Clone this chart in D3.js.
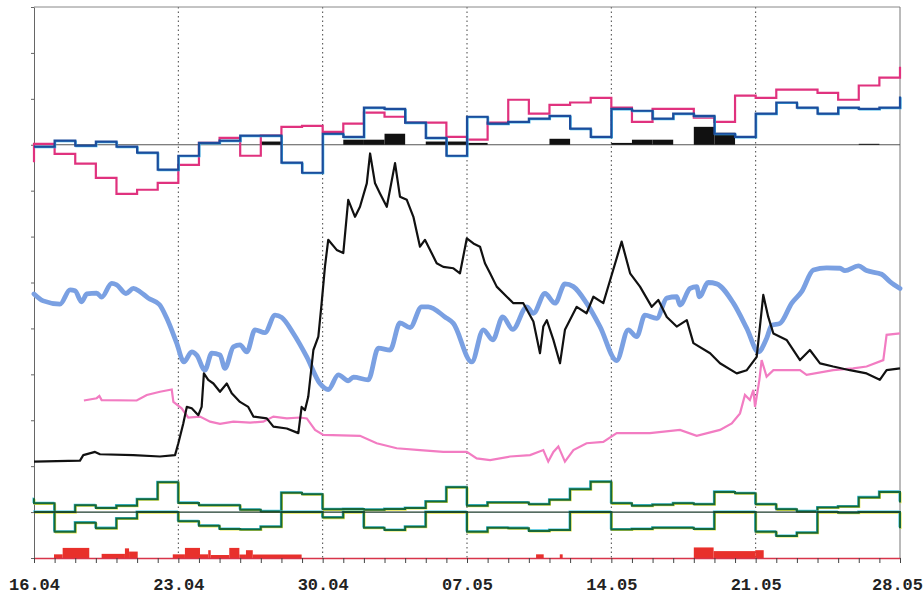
<!DOCTYPE html>
<html>
<head>
<meta charset="utf-8">
<script src="https://cdn.jsdelivr.net/npm/d3@7"></script>
<style>
  body { margin: 0; background: #fff; }
  svg { display: block; }
</style>
</head>
<body>
<div id="chart"></div>
<script>
// x axis: days since 16.04, weekly labels
const dayCount = 42;
const weekDays = [0, 7, 14, 21, 28, 35, 42];
const weekLabels = ["16.04", "23.04", "30.04", "07.05", "14.05", "21.05", "28.05"];

// top panel, daily steps (lead-in value, 42 days, end value)
const pinkStepStart = -3.8;
const pinkStep = [0.2, -2.0, -4.1, -7.2, -10.7, -9.8, -8.3, -4.4, 0.4, 1.5, -2.4, 2.0, 3.9, 4.1, 2.8, 4.6, 7.0, 6.1, 4.8, 4.8, 1.7,
  1.1, 4.8, 9.8, 6.8, 8.7, 9.2, 10.2, 8.1, 5.0, 7.8, 7.8, 5.9, 5.0, 10.7, 10.2, 12.0, 12.0, 11.3, 9.8, 12.9, 14.6];
const pinkStepEnd = 17.0;

const blueStepStart = -0.4;
const blueStep = [-0.4, 0.9, -0.2, 0.7, -0.4, -1.7, -5.4, -2.4, 0.4, 0.9, 2.0, 2.0, -3.9, -6.1, 2.4, 1.7, 8.1, 7.8, 4.8, 1.5, -2.4,
  6.1, 4.6, 5.0, 5.7, 6.3, 3.5, 1.7, 7.8, 7.4, 5.7, 6.8, 6.3, 2.4, 1.7, 6.8, 9.2, 8.1, 6.8, 8.1, 7.8, 8.1];
const blueStepEnd = 10.5;

const blackBars = [0, 0, 0, 0, 0, 0, 0, 0, 0, 0, 0, 0.7, 0, 0, 0, 1.1, 1.1, 2.4, 0, 0.7, 0.7,
  0.4, 0, 0, 0, 1.3, 0, 0, 0.4, 1.1, 1.1, 0, 3.9, 2.6, 0, 0, 0, 0, 0, 0, 0.2, 0];

// middle panel: [day, value]
const lightBlueLine = [[0, 57.5], [0.45, 56.0], [1.26, 55.3], [1.75, 58.4], [1.99, 58.2], [2.31, 55.8], [2.56, 57.5], [3.04, 57.7],
  [3.28, 56.8], [3.77, 59.8], [4.01, 59.5], [4.46, 57.6], [4.82, 58.7], [5.14, 58.0], [5.54, 56.6], [6.08, 55.2], [6.44, 52.2],
  [6.92, 46.8], [7.27, 42.7], [7.65, 44.9], [7.89, 44.2], [8.29, 40.9], [8.62, 44.6], [9.02, 44.2], [9.26, 41.3], [9.67, 46.0],
  [9.99, 46.4], [10.32, 44.9], [10.72, 49.7], [11.2, 49.1], [11.69, 52.9], [12.01, 52.4], [12.58, 48.9], [13.23, 43.8],
  [13.87, 38.0], [14.27, 36.7], [14.76, 39.9], [15.24, 38.6], [15.49, 39.4], [16.21, 38.8], [16.7, 45.7], [17.27, 45.3],
  [17.75, 51.2], [18.24, 50.2], [18.8, 54.7], [19.12, 54.7], [19.93, 52.5], [20.34, 51.1], [21.23, 42.7], [21.79, 49.7],
  [22.25, 47.5], [22.73, 52.5], [23.22, 49.8], [23.9, 54.7], [24.22, 53.3], [24.78, 57.6], [25.27, 55.5], [25.75, 59.7],
  [26.16, 59.1], [26.8, 55.5], [27.45, 50.4], [28.26, 43.0], [28.82, 49.7], [29.23, 48.2], [29.63, 52.9], [30.2, 52.2],
  [30.69, 56.6], [31.17, 56.9], [31.33, 55.1], [31.82, 58.7], [32.14, 59.1], [32.27, 56.9], [32.7, 60.0], [33.11, 59.7],
  [33.92, 55.5], [34.57, 50.0], [35.13, 44.9], [35.53, 47.8], [35.78, 50.7], [36.18, 51.1], [36.75, 55.5], [37.23, 58.0],
  [37.8, 62.7], [38.44, 63.2], [39.09, 63.1], [39.33, 62.6], [39.98, 63.6], [40.38, 62.6], [41.11, 61.8], [41.51, 60.2], [42, 58.7]];

const pinkLine = [[2.42, 34.3], [3.04, 34.8], [3.17, 35.3], [3.28, 34.4], [4.98, 34.3], [5.47, 35.5], [6.11, 36.2], [6.68, 36.7],
  [6.76, 34.0], [7.16, 32.6], [7.48, 30.6], [8.05, 30.8], [8.54, 29.7], [9.02, 29.2], [9.67, 29.7], [10.48, 29.5], [11.12, 29.7],
  [11.61, 30.8], [12.26, 30.4], [12.9, 30.6], [13.23, 30.4], [13.63, 27.9], [14.03, 26.8], [15.81, 26.6], [16.62, 25.0],
  [17.59, 23.9], [18.72, 23.5], [19.85, 23.1], [20.99, 23.1], [21.47, 21.7], [22.12, 21.3], [23.09, 22.1], [24.06, 22.4],
  [24.7, 23.5], [24.94, 21.0], [25.19, 23.1], [25.43, 24.3], [25.75, 21.0], [26.16, 23.5], [26.8, 25.0], [27.61, 25.3],
  [28.26, 27.2], [29.87, 27.2], [31.33, 27.9], [32.14, 26.6], [33.27, 27.9], [33.84, 29.3], [34.24, 31.5], [34.48, 35.5],
  [34.72, 34.4], [34.89, 36.6], [34.97, 32.9], [35.18, 38.8], [35.29, 43.1], [35.53, 39.5], [35.86, 40.9], [37.15, 40.9],
  [37.47, 39.9], [38.76, 40.9], [39.73, 41.3], [40.38, 41.7], [41.19, 43.1], [41.35, 48.6], [42, 48.9]];

const blackLine = [[0, 21.0], [2.23, 21.2], [2.39, 22.4], [2.96, 23.1], [3.2, 22.6], [4.82, 22.4], [6.11, 22.1], [6.84, 22.4],
  [7.0, 25.0], [7.24, 29.3], [7.41, 32.9], [7.65, 32.6], [7.97, 31.1], [8.13, 32.9], [8.24, 40.2], [8.45, 38.8], [8.7, 38.0],
  [9.02, 36.2], [9.35, 38.0], [9.59, 35.9], [9.99, 34.0], [10.39, 32.9], [10.64, 30.8], [11.29, 30.4], [11.61, 28.6],
  [12.26, 28.2], [12.82, 27.2], [12.98, 32.9], [13.14, 32.2], [13.3, 35.1], [13.55, 45.3], [13.79, 48.2], [13.95, 55.5],
  [14.11, 63.4], [14.27, 69.3], [14.68, 67.1], [15.0, 66.4], [15.24, 78.0], [15.57, 74.3], [15.81, 76.5], [16.14, 81.6],
  [16.3, 88.1], [16.54, 81.6], [16.78, 79.4], [17.11, 76.5], [17.51, 86.0], [17.75, 78.7], [18.08, 78.0], [18.4, 74.3],
  [18.72, 67.8], [18.96, 69.3], [19.21, 67.1], [19.53, 64.2], [19.85, 63.4], [20.34, 63.1], [20.66, 62.0], [20.99, 69.6],
  [21.31, 68.5], [21.63, 67.8], [21.87, 64.2], [22.12, 62.0], [22.44, 59.1], [22.93, 56.9], [23.25, 55.5], [23.73, 55.5],
  [24.22, 51.5], [24.54, 44.6], [24.7, 50.4], [24.87, 51.8], [25.19, 47.5], [25.51, 42.4], [25.75, 49.7], [26.32, 54.7],
  [26.8, 53.3], [27.13, 56.9], [27.61, 55.5], [27.94, 60.5], [28.5, 68.9], [28.91, 62.0], [29.39, 59.1], [29.96, 54.7],
  [30.28, 56.2], [30.69, 52.5], [31.17, 50.4], [31.66, 51.8], [31.98, 46.8], [32.79, 44.6], [33.27, 42.4], [34.08, 40.2],
  [34.57, 40.9], [35.05, 43.8], [35.37, 57.3], [35.61, 52.5], [35.86, 48.9], [36.5, 47.5], [37.15, 43.1], [37.63, 45.3],
  [38.12, 42.4], [38.76, 41.7], [39.57, 40.9], [40.38, 40.2], [41.02, 38.8], [41.35, 40.9], [42, 41.3]];

// bottom panel, daily steps around the green base line
const greenUpStart = 3.0;
const greenUp = [1.9, 0, 1.5, 0.9, 1.4, 2.8, 6.5, 2.0, 1.5, 1.5, 0.5, 0.15, 4.2, 3.9, 0.6, 0.65, 0.5, 0.65, 0.9, 2.3, 5.4,
  1.4, 2.1, 2.1, 1.7, 2.7, 5.0, 6.6, 1.9, 1.4, 1.6, 1.9, 1.7, 4.4, 4.1, 1.7, 0.6, 0.15, 1.0, 1.2, 3.2, 4.4];
const greenUpEnd = 2.1;

const greenDownStart = 0;
const greenDown = [0, -4.3, -2.3, -3.5, -1.4, 0, 0, -2.0, -3.0, -3.7, -3.8, -3.2, 0, 0, -1.2, 0, -3.4, -3.9, -3.2, 0, 0,
  -4.3, -3.4, -3.5, -4.1, -3.9, 0, 0, -3.8, -3.7, -3.4, -3.4, -3.7, 0, 0, -4.3, -5.2, -4.5, 0, -0.15, 0, 0];
const greenDownEnd = -3.5;

// red bars: start day, end day, height
const redStart = [0.97, 1.39, 3.28, 4.41, 4.61, 6.73, 7.32, 8.05, 8.45, 8.57, 9.47, 9.96, 10.28, 10.61, 24.35, 25.5, 32.0, 32.96, 34.98];
const redEnd = [1.39, 2.68, 4.41, 4.61, 5.03, 7.32, 8.05, 8.45, 8.57, 9.47, 9.96, 10.28, 10.61, 12.98, 24.72, 25.64, 32.96, 34.98, 35.39];
const redVal = [0.8, 2.2, 0.9, 2.1, 1.4, 0.8, 2.2, 0.8, 1.7, 0.65, 2.2, 0.76, 1.7, 0.76, 0.8, 0.8, 2.3, 1.5, 1.7];

const W = 924, H = 594;
const plotL = 34, plotR = 900, plotT = 7, plotB = 558;

const svg = d3.select("#chart").append("svg").attr("width", W).attr("height", H);

const x = d3.scaleLinear().domain([0, dayCount]).range([plotL, plotR]);
const y = d3.scaleLinear().domain([0, 120]).range([plotB, plotT]);
const yTop = d3.scaleLinear().domain([-10, 30]).range([y(80), y(120)]);
const yGreen = d3.scaleLinear().domain([-10, 10]).range([y(0), y(20)]);
const yRed = d3.scaleLinear().domain([0, 10]).range([y(0), y(10)]);

function stepPoints(start, days, end) {
  const pts = [[0, start]];
  days.forEach((v, i) => pts.push([i, v]));
  pts.push([dayCount, end]);
  return pts;
}

// weekly dotted grid
svg.append("g")
  .selectAll("line")
  .data(weekDays.slice(1, -1))
  .enter()
  .append("line")
  .attr("x1", (d) => x(d)).attr("x2", (d) => x(d))
  .attr("y1", plotT).attr("y2", plotB)
  .attr("stroke", "#444")
  .attr("stroke-width", 1)
  .attr("stroke-dasharray", "1.5,3");

// frame
svg.append("line").attr("x1", plotL).attr("x2", plotR).attr("y1", plotT).attr("y2", plotT).attr("stroke", "#888");
svg.append("line").attr("x1", plotR).attr("x2", plotR).attr("y1", plotT).attr("y2", plotB).attr("stroke", "#777");

// left axis, unlabeled ticks
const gy = svg.append("g").attr("transform", `translate(${plotL},0)`)
  .call(d3.axisLeft(y).tickValues(d3.range(0, 121, 10)).tickSize(3).tickSizeOuter(0).tickFormat(""));
gy.selectAll("line").attr("stroke", "#666");
gy.select(".domain").attr("stroke", "#666");

// top panel
svg.append("line").attr("x1", plotL).attr("x2", plotR).attr("y1", yTop(0)).attr("y2", yTop(0))
  .attr("stroke", "#555").attr("stroke-width", 1.2);

svg.append("g")
  .selectAll("rect")
  .data(blackBars)
  .enter()
  .append("rect")
  .attr("x", (d, i) => x(i))
  .attr("width", (d, i) => x(i + 1) - x(i))
  .attr("y", (d) => yTop(d))
  .attr("height", (d) => yTop(0) - yTop(d))
  .attr("fill", "#111");

const stepTop = d3.line().x((d) => x(d[0])).y((d) => yTop(d[1])).curve(d3.curveStepAfter);

svg.append("path").datum(stepPoints(pinkStepStart, pinkStep, pinkStepEnd))
  .attr("d", stepTop).attr("fill", "none").attr("stroke", "#e0327e").attr("stroke-width", 2.2);

svg.append("path").datum(stepPoints(blueStepStart, blueStep, blueStepEnd))
  .attr("d", stepTop).attr("fill", "none").attr("stroke", "#41b4e6").attr("stroke-width", 1.6)
  .attr("transform", "translate(0.8,0.8)");
svg.append("path").datum(stepPoints(blueStepStart, blueStep, blueStepEnd))
  .attr("d", stepTop).attr("fill", "none").attr("stroke", "#1c4d9c").attr("stroke-width", 2.2);

// middle panel
const midLine = d3.line().x((d) => x(d[0])).y((d) => y(d[1]));

svg.append("path").datum(lightBlueLine)
  .attr("d", midLine.curve(d3.curveMonotoneX))
  .attr("fill", "none").attr("stroke", "#7aa0e2").attr("stroke-width", 4.8)
  .attr("stroke-linejoin", "round").attr("stroke-linecap", "round");

svg.append("path").datum(pinkLine)
  .attr("d", midLine.curve(d3.curveLinear))
  .attr("fill", "none").attr("stroke", "#f27cc2").attr("stroke-width", 2.2);

svg.append("path").datum(blackLine)
  .attr("d", midLine.curve(d3.curveLinear))
  .attr("fill", "none").attr("stroke", "#111").attr("stroke-width", 2.2).attr("stroke-linejoin", "round");

// bottom panel: green steps
const stepGreen = d3.line().x((d) => x(d[0])).y((d) => yGreen(d[1])).curve(d3.curveStepAfter);
[stepPoints(greenUpStart, greenUp, greenUpEnd), stepPoints(greenDownStart, greenDown, greenDownEnd)].forEach((pts) => {
  svg.append("path").datum(pts).attr("d", stepGreen).attr("fill", "none")
    .attr("stroke", "#e8e64a").attr("stroke-width", 1.3).attr("transform", "translate(0.9,0.9)");
  svg.append("path").datum(pts).attr("d", stepGreen).attr("fill", "none")
    .attr("stroke", "#3fc0dc").attr("stroke-width", 1.3).attr("transform", "translate(-0.9,-0.9)");
  svg.append("path").datum(pts).attr("d", stepGreen).attr("fill", "none")
    .attr("stroke", "#17683a").attr("stroke-width", 2);
});

svg.append("line").attr("x1", plotL).attr("x2", plotR).attr("y1", yGreen(0)).attr("y2", yGreen(0))
  .attr("stroke", "#1d3b2c").attr("stroke-width", 1.3);

// red bars
svg.append("g")
  .selectAll("rect")
  .data(redVal)
  .enter()
  .append("rect")
  .attr("x", (d, i) => x(redStart[i]))
  .attr("width", (d, i) => x(redEnd[i]) - x(redStart[i]))
  .attr("y", (d) => yRed(d))
  .attr("height", (d) => yRed(0) - yRed(d))
  .attr("fill", "#e8302b");

// bottom axis
const gx = svg.append("g").attr("transform", `translate(0,${plotB})`)
  .call(d3.axisBottom(x)
    .tickValues(d3.range(0, dayCount + 1))
    .tickSize(5)
    .tickSizeOuter(0)
    .tickPadding(15)
    .tickFormat((d) => (weekDays.indexOf(d) >= 0 ? weekLabels[weekDays.indexOf(d)] : "")));
gx.select(".domain").attr("stroke", "#d8344a").attr("stroke-width", 1.5);
gx.selectAll("line").attr("stroke", "#444");
gx.selectAll("text")
  .attr("font-family", "'Liberation Mono', 'DejaVu Sans Mono', monospace")
  .attr("font-weight", "bold")
  .attr("font-size", 17)
  .attr("fill", "#222");
// last label sits at the right edge; nudge it in so it stays whole
gx.selectAll("text").filter((d) => d === dayCount).attr("dx", -3);
</script>
</body>
</html>
